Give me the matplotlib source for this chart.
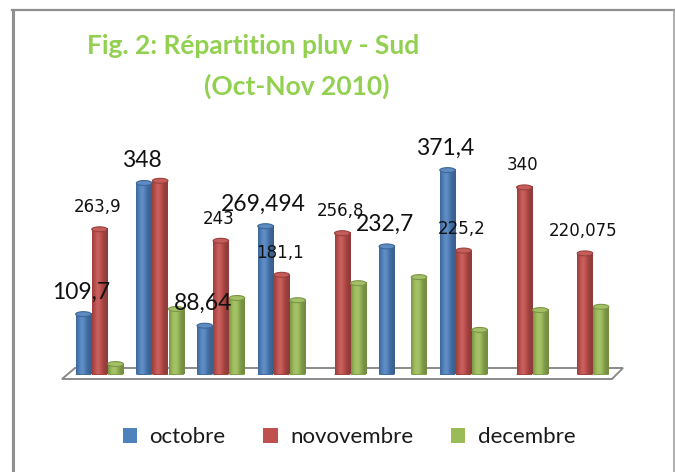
import numpy as np
import matplotlib
matplotlib.use("Agg")
import matplotlib.pyplot as plt
from matplotlib.patches import Ellipse, Polygon, Rectangle
from matplotlib.lines import Line2D
from matplotlib.colors import to_rgb

# ---------------- data ----------------
categories = ["1", "2", "3", "4", "5", "6", "7", "8", "9"]
series_names = ["octobre", "novovembre", "decembre"]
octobre = [109.7, 348, 88.64, 269.494, np.nan, 232.7, 371.4, np.nan, np.nan]
novembre = [263.9, 352, 243, 181.1, 256.8, np.nan, 225.2, 340, 220.075]
decembre = [19, 119, 139, 135, 166, 177, 81, 117, 123]
oct_labeled = [True, True, True, True, False, True, True, False, False]
nov_labeled = [True, False, True, True, True, False, True, True, True]
title_line1 = "Fig. 2: Répartition pluv - Sud"
title_line2 = "(Oct-Nov 2010)"

colors = ["#4F81BD", "#C0504D", "#9BBB59"]
title_color = "#92D050"

W, H = 675, 472
fig = plt.figure(figsize=(W / 100, H / 100), dpi=100)
fig.patch.set_facecolor("white")


def fx(px):
    return px / W


def fy(py):
    return (H - py) / H


# axes placed so baseline at y=374.5 px
ymax = 400
px_per_unit = 0.5503
ax_h = ymax * px_per_unit
ax = fig.add_axes([fx(60), fy(374.5), 565 / W, ax_h / H])
ax.patch.set_visible(False)
for s in ax.spines.values():
    s.set_visible(False)
ax.set_xticks([])
ax.set_yticks([])

bar_w = 0.255
offs = [-0.265, 0.0, 0.265]
cap_h = 9.0


def shade(c, f):
    c = np.array(to_rgb(c))
    if f < 1:
        return c * f
    return c + (1 - c) * min(f - 1, 1)


t = np.linspace(0, 1, 40)
prof = 0.74 + 0.36 * np.exp(-((t - 0.38) / 0.30) ** 2)


def cylinder(x, h, c):
    x0, x1 = x - bar_w / 2, x + bar_w / 2
    img = np.array([[shade(c, f) for f in prof]])
    # rounded bottom
    ax.add_patch(Ellipse((x, 0), bar_w, cap_h, facecolor=shade(c, 0.85),
                         edgecolor="none", zorder=2))
    ax.imshow(img, extent=[x0, x1, 0, h], aspect="auto",
              interpolation="bilinear", zorder=3)
    ax.add_patch(Ellipse((x, h), bar_w, cap_h, facecolor=shade(c, 1.08),
                         edgecolor=shade(c, 0.8), linewidth=0.8, zorder=4))


xs = np.arange(len(categories))
all_series = [octobre, novembre, decembre]
for si, vals in enumerate(all_series):
    for i, v in enumerate(vals):
        if np.isnan(v):
            continue
        cylinder(xs[i] + offs[si], v, colors[si])


def fmt(v):
    s = ("%g" % v).replace(".", ",")
    return s


for i, v in enumerate(octobre):
    if oct_labeled[i] and not np.isnan(v):
        ax.annotate(fmt(v), (xs[i] + offs[0], v), xytext=(-2, 22),
                    textcoords="offset pixels", ha="center", va="center",
                    fontsize=16.5, family="Lato", color="#111111",
                    annotation_clip=False, zorder=6)
for i, v in enumerate(novembre):
    if nov_labeled[i] and not np.isnan(v):
        ax.annotate(fmt(v), (xs[i] + offs[1], v), xytext=(-2, 22),
                    textcoords="offset pixels", ha="center", va="center",
                    fontsize=12, family="DejaVu Sans", color="#111111",
                    annotation_clip=False, zorder=6)

ax.set_xlim(-0.651, 8.659)
ax.set_ylim(0, ymax)

# floor
floor_px = [(62, 379), (612, 379), (623, 368), (75, 368)]
fig.add_artist(Polygon([(fx(a), fy(b)) for a, b in floor_px], closed=True,
                       facecolor="white", edgecolor="#8a8a8a", linewidth=1.4,
                       transform=fig.transFigure, zorder=-1))

# frame border
fig.add_artist(Line2D([fx(13), fx(13)], [fy(10), fy(472)], color="#8f8f8f",
                      linewidth=2.2, transform=fig.transFigure))
fig.add_artist(Line2D([fx(12), fx(674)], [fy(10), fy(10)], color="#8f8f8f",
                      linewidth=1.6, transform=fig.transFigure))
fig.add_artist(Line2D([fx(673.5), fx(673.5)], [fy(10), fy(472)], color="#a0a0a0",
                      linewidth=1.2, transform=fig.transFigure))

# title
fig.text(fx(253), fy(46), title_line1, ha="center", va="center",
         fontsize=19, fontweight="bold", family="Lato", color=title_color)
fig.text(fx(297), fy(86), title_line2, ha="center", va="center",
         fontsize=19, fontweight="bold", family="Lato", color=title_color)

# legend
handles = [Rectangle((0, 0), 1, 1, facecolor=c, edgecolor="none") for c in colors]
leg = fig.legend(handles, series_names, loc="center", bbox_to_anchor=(fx(349), fy(437)),
                 ncol=3, frameon=False, prop={"family": "Lato", "size": 16},
                 handlelength=0.65, handleheight=0.65, handletextpad=0.55,
                 columnspacing=1.7)
for txt in leg.get_texts():
    txt.set_color("#1a1a1a")

fig.savefig("out.png", dpi=100)
